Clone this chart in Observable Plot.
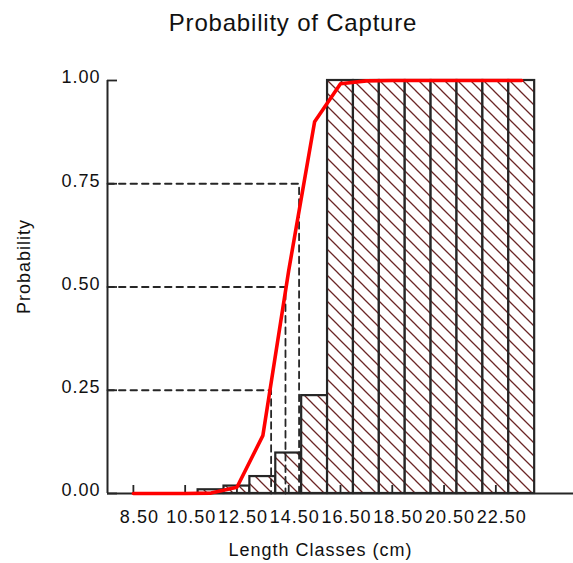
<!DOCTYPE html>
<html>
<head>
<meta charset="utf-8">
<script src="https://cdn.jsdelivr.net/npm/d3@7"></script>
<script src="https://cdn.jsdelivr.net/npm/@observablehq/plot@0.6"></script>
<style>
html, body { margin: 0; padding: 0; background: #fff; }
#chart svg { font-family: "Liberation Sans", Arial, sans-serif; letter-spacing: 1px; }
#chart svg g[font-size="24"] { letter-spacing: 0.8px; }
</style>
</head>
<body>
<div id="chart"></div>
<script>
// ---- data ----
const titleText = "Probability of Capture";
const xLabelText = "Length Classes (cm)";
const yLabelText = "Probability";

// logistic selection curve at class mid-lengths (cm)
const curveLength = [8.5, 9.5, 10.5, 11.5, 12.5, 13.5, 14.5, 15.5, 16.5, 17.5, 18.5, 19.5, 20.5, 21.5, 22.5, 23.5];
const curveProb   = [0, 0, 0, 0.001, 0.015, 0.14, 0.54, 0.90, 0.992, 0.999, 1, 1, 1, 1, 1, 1];

// hatched bars (class lower bound, probability)
const barLower = [11, 12, 13, 14, 15, 16, 17, 18, 19, 20, 21, 22, 23];
const barProb  = [0.009, 0.018, 0.041, 0.098, 0.237, 1, 1, 1, 1, 1, 1, 1, 1];
const barWidth = 1;

// L25, L50, L75 guide lines
const levelProb   = [0.25, 0.5, 0.75];
const levelLength = [13.82, 14.375, 14.9];

const xTicks = [8.5, 10.5, 12.5, 14.5, 16.5, 18.5, 20.5, 22.5];
const yTicks = [0, 0.25, 0.5, 0.75, 1];
const xDomain = [7.5, 25.5];
const yDomain = [0, 1];

// ---- layout ----
const W = 573, H = 563;
const mL = 107, mR = 0, mT = 80, mB = 70;
const frameW = W - mL - mR, frameH = H - mT - mB;

const bars = barLower.map((x, i) => ({x1: x, x2: x + barWidth, p: barProb[i]}));
const curve = curveLength.map((x, i) => ({x, p: curveProb[i]}));
const guides = levelProb.flatMap((p, i) => [
  {k: i, x: xDomain[0], p},
  {k: i, x: levelLength[i], p},
  {k: i, x: levelLength[i], p: 0}
]);

const ink = "#262626";

const plot = Plot.plot({
  width: W,
  height: H,
  marginLeft: mL,
  marginRight: mR,
  marginTop: mT,
  marginBottom: mB,
  style: {background: "#fff", color: "#111", fontFamily: "'Liberation Sans', Arial, sans-serif"},
  x: {domain: xDomain, label: null},
  y: {domain: yDomain, label: null},
  marks: [
    Plot.rectY(bars, {x1: "x1", x2: "x2", y1: 0, y2: "p", fill: "url(#hatch)", stroke: ink, strokeWidth: 2.2}),
    Plot.line(guides, {x: "x", y: "p", z: "k", stroke: ink, strokeWidth: 1.8, strokeDasharray: "6.5,5"}),
    Plot.ruleX([xDomain[0]], {stroke: ink, strokeWidth: 2}),
    Plot.ruleY([0], {stroke: ink, strokeWidth: 2}),
    Plot.tickX(xTicks, {x: d => d, insetTop: frameH - 8, stroke: ink, strokeWidth: 1.8}),
    Plot.tickY(yTicks, {y: d => d, insetRight: frameW - 10, stroke: ink, strokeWidth: 1.8}),
    Plot.line(curve, {x: "x", y: "p", stroke: "#ff0000", strokeWidth: 3.6, strokeLinejoin: "round", strokeLinecap: "round"}),
    Plot.axisX(xTicks, {tickSize: 0, tickPadding: 17, tickFormat: d => d.toFixed(2), fontSize: 18, dx: 6, label: null, fill: "#111"}),
    Plot.axisY(yTicks, {tickSize: 0, tickPadding: 7, tickFormat: d => d.toFixed(2), fontSize: 18, dy: -3, label: null, fill: "#111"}),
    Plot.text([titleText], {frameAnchor: "top", lineAnchor: "bottom", dx: 292.5 - (mL + frameW / 2), dy: 30 - mT, fontSize: 24, fill: "#111"}),
    Plot.text([xLabelText], {frameAnchor: "bottom", lineAnchor: "bottom", dx: 320 - (mL + frameW / 2), dy: 62, fontSize: 18, fill: "#111"}),
    Plot.text([yLabelText], {frameAnchor: "left", textAnchor: "middle", lineAnchor: "middle", rotate: -90, dx: 24 - mL, dy: 266 - (mT + frameH / 2), fontSize: 18, fill: "#111"})
  ]
});

const svgEl = plot.tagName.toLowerCase() === "svg" ? plot : plot.querySelector("svg");
const defs = d3.select(svgEl).insert("defs", ":first-child");
const pat = defs.append("pattern")
  .attr("id", "hatch")
  .attr("patternUnits", "userSpaceOnUse")
  .attr("width", 13)
  .attr("height", 13);
pat.append("rect").attr("width", 13).attr("height", 13).attr("fill", "#fff");
pat.append("path")
  .attr("d", "M-2,-2L15,15M-2,11L2,15M11,-2L15,2")
  .attr("stroke", "#6b2626")
  .attr("stroke-width", 1.3)
  .attr("fill", "none");

document.getElementById("chart").appendChild(plot);
</script>
</body>
</html>
